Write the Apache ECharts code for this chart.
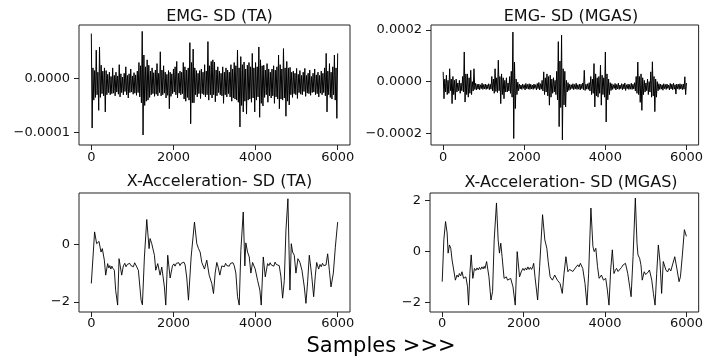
<!DOCTYPE html>
<html>
<head>
<meta charset="utf-8">
<script src="https://cdn.jsdelivr.net/npm/echarts@6/dist/echarts.min.js"></script>
<style>
html, body {margin: 0; padding: 0; background: #fff;}
#chart {width: 706px; height: 360px;}
</style>
</head>
<body>
<div id="chart"></div>
<script>
// EMG values in units of 1e-5, one reading every 20 samples (0..6000)
const emgStep = 20;
const emgTa = [
    8.4, -9.2, 2.0, -4.0, 1.5, -3.5, 5.3, -3.0, 1.2, -5.9,
    5.9, -3.5, 2.5, -2.8, 1.4, -3.2, 2.0, -6.2, 1.5, -3.0,
    0.8, -2.6, 1.2, -3.0, 0.4, -2.8, 2.0, -2.7, 0.6, -3.2,
    1.2, -2.5, 0.5, -2.9, 2.6, -3.4, 0.9, -2.6, 0.3, -3.0,
    1.0, -2.4, 2.2, -3.0, 0.6, -3.6, 0.9, -2.6, 1.8, -2.5,
    0.5, -2.9, 1.1, -2.7, 0.7, -3.1, 1.4, -2.6, 3.0, -3.4,
    2.4, -4.5, 8.8, -10.5, 4.4, -5.0, 2.2, -4.2, 3.5, -4.0,
    2.5, -3.5, 1.4, -3.0, 2.0, -2.8, 1.1, -3.3, 1.6, -2.9,
    2.8, -3.2, 1.0, -2.6, 5.0, -3.2, 1.6, -3.0, 2.4, -2.7,
    1.2, -3.6, 0.8, -3.1, 1.5, -5.6, 1.2, -3.3, 0.9, -2.8,
    1.8, -2.5, 2.2, -3.0, 3.2, -3.6, 1.0, -2.7, 1.4, -3.0,
    1.2, -2.8, 3.0, -3.8, 2.2, -4.2, 1.6, -3.5, 2.0, -4.0,
    6.7, -8.4, 3.0, -4.5, 5.5, -4.5, 2.0, -3.0, 1.5, -3.4,
    1.0, -2.8, 1.5, -3.7, 1.8, -2.8, 1.2, -3.0, 2.6, -3.4,
    1.4, -3.0, 6.9, -4.0, 2.4, -3.0, 3.2, -3.6, 3.5, -3.0,
    3.1, -4.3, 1.6, -3.2, 2.2, -2.6, 1.4, -3.0, 1.0, -3.2,
    2.2, -4.6, 1.2, -3.0, 2.0, -3.4, 1.6, -2.8, 1.2, -3.4,
    2.6, -4.2, 1.8, -3.6, 3.0, -3.8, 2.4, -4.0, 5.3, -4.4,
    2.0, -9.0, 4.1, -5.0, 2.6, -6.2, 3.1, -4.2, 1.8, -6.6,
    2.5, -4.0, 3.0, -3.8, 2.2, -4.4, 4.7, -3.6, 2.0, -6.2,
    3.0, -4.0, 2.2, -3.4, 5.9, -7.2, 3.5, -4.6, 2.4, -5.1,
    2.5, -3.5, 1.6, -3.0, 2.8, -4.4, 1.8, -3.2, 1.2, -3.6,
    1.8, -3.2, 2.4, -4.6, 1.6, -3.4, 2.2, -3.8, 4.4, -5.6,
    2.6, -3.8, 1.8, -4.0, 5.6, -3.6, 2.0, -7.0, 3.2, -4.2,
    2.0, -4.9, 2.1, -3.0, 1.2, -3.5, 1.4, -2.8, 1.0, -3.0,
    1.9, -3.7, 0.8, -2.6, 1.5, -2.9, 0.6, -3.0, 1.2, -2.4,
    1.9, -3.3, 0.6, -2.7, 1.0, -2.8, 1.6, -3.1, 0.4, -2.6,
    1.0, -2.5, 1.8, -3.0, 0.7, -2.8, 1.2, -3.4, 0.6, -2.7,
    1.4, -3.0, 1.0, -2.6, 2.0, -3.2, 4.7, -6.2, 1.4, -3.0,
    2.8, -3.5, 1.2, -3.8, 2.2, -3.0, 4.4, -4.0, 2.0, -7.4,
    4.7
];
const emgMgas = [
    3.8, -6.6, 1.0, -4.0, 2.5, -5.0, 0.5, -4.5, 5.0, -3.5,
    1.0, -8.5, 2.0, -5.0, 0.5, -7.0, 1.0, -4.0, -0.5, -3.5,
    0.5, -4.5, -0.6, -3.5, 2.0, -4.0, 11.5, -7.9, 3.0, -5.0,
    3.0, -6.0, 1.5, -4.5, 4.4, -5.0, 0.0, -3.6, 5.0, -3.0,
    -0.6, -3.2, -1.0, -2.9, -0.9, -3.1, -1.2, -2.7, -0.6, -3.0,
    -1.1, -2.8, -0.9, -3.0, -1.2, -2.7, -0.8, -3.1, -1.0, -2.9,
    2.0, -3.6, 1.0, -4.5, 5.0, -3.8, 1.5, -4.2, 8.3, -3.5,
    2.0, -8.5, 3.0, -5.0, 1.5, -6.6, 0.5, -4.0, 1.5, -4.0,
    -0.5, -3.6, 2.0, -4.5, 4.0, -6.0, 19.2, -22.0, 7.6, -10.4,
    1.0, -5.0, -0.2, -3.5, -1.0, -2.8, -1.3, -3.0, -0.9, -2.6,
    -1.2, -3.2, -0.7, -2.7, -1.1, -2.9, -0.8, -3.0, -1.0, -2.8,
    -1.3, -3.0, -0.9, -2.6, -1.2, -3.2, -0.7, -2.7, -0.3, -3.2,
    -0.8, -2.9, 0.5, -3.6, 3.8, -5.0, 1.5, -4.0, 3.0, -5.5,
    2.0, -9.1, 2.5, -6.0, 1.0, -4.5, 1.5, -4.0, 0.5, -5.0,
    4.0, -7.0, 15.5, -17.4, 8.0, -10.0, 18.0, -22.5, 5.0, -9.0,
    4.0, -9.8, 0.5, -4.0, -0.4, -3.4, -1.0, -3.0, -1.2, -2.7,
    -0.8, -3.1, -1.1, -2.8, -0.6, -3.0, -1.2, -2.9, -0.9, -3.2,
    -1.0, -2.7, -0.5, -3.1, 4.4, -3.4, -1.0, -2.9, -0.8, -3.0,
    -0.4, -3.6, 2.0, -5.0, 1.0, -4.5, 7.0, -9.8, 3.0, -5.5,
    1.5, -6.0, 2.0, -4.5, 6.4, -9.1, 2.5, -5.0, 1.5, -6.0,
    11.5, -15.6, 3.0, -7.0, 1.0, -5.0, -0.4, -3.4, -0.8, -3.0,
    -1.2, -2.6, -0.7, -3.2, -1.1, -2.8, -0.6, -3.0, -1.3, -2.7,
    -0.8, -3.1, -1.0, -2.8, -0.5, -3.4, -1.2, -2.7, -0.9, -3.0,
    -1.1, -2.9, -0.6, -3.0, -1.0, -2.8, -0.4, -3.6, 2.0, -4.5,
    7.6, -5.0, 2.0, -8.0, 3.0, -11.1, 1.5, -5.0, 0.5, -4.0,
    -0.5, -3.5, 1.0, -5.0, 0.0, -4.0, 3.8, -6.0, 7.7, -5.5,
    2.0, -11.6, 1.0, -6.0, 0.0, -3.5, -0.8, -3.0, -1.0, -2.9,
    -1.2, -3.3, -0.8, -2.7, -1.1, -3.0, -0.9, -2.6, -1.3, -3.2,
    -0.7, -2.8, -1.0, -3.1, -0.6, -2.9, -1.2, -4.8, -0.9, -2.7,
    -1.0, -3.0, -0.8, -2.8, -1.1, -3.1, -0.9, -2.9, 1.9, -5.0,
    -0.5
];

// X-acceleration, read at the turning points of the trace
const accTaSamples = [
    0, 80, 130, 187, 236, 268, 317, 350, 398, 425, 450, 475, 500, 525, 561, 593, 641, 675, 740, 780,
    815, 845, 875, 905, 935, 965, 995, 1025, 1055, 1085, 1105, 1146, 1212, 1244, 1293, 1350, 1407, 1431, 1472, 1537,
    1569, 1618, 1675, 1716, 1780, 1813, 1861, 1919, 1976, 2010, 2040, 2070, 2100, 2130, 2160, 2190, 2220, 2255, 2285, 2325,
    2366, 2431, 2512, 2569, 2610, 2650, 2691, 2756, 2812, 2870, 2934, 2976, 3016, 3056, 3090, 3130, 3178, 3210, 3240, 3270,
    3300, 3330, 3360, 3390, 3420, 3450, 3480, 3520, 3561, 3602, 3642, 3700, 3739, 3763, 3805, 3846, 3886, 3927, 3992, 4049,
    4105, 4138, 4188, 4236, 4293, 4325, 4355, 4385, 4415, 4445, 4475, 4505, 4540, 4577, 4618, 4659, 4700, 4740, 4788, 4837,
    4870, 4902, 4943, 4983, 5032, 5081, 5130, 5187, 5227, 5268, 5309, 5366, 5415, 5456, 5488, 5537, 5570, 5600, 5630, 5660,
    5690, 5715, 5756, 5797, 5837, 5894, 5943, 5999
];
const accTaValues = [
    -1.36, 0.43, 0.02, 0.10, -0.27, -0.15, -0.55, -1.07, -0.67, -0.82, -0.74, -0.86, -0.76, -0.83, -0.90, -1.60, -2.11, -0.50, -1.07, -0.75,
    -0.66, -0.78, -0.70, -0.76, -0.66, -0.74, -0.68, -0.78, -0.64, -0.72, -0.66, -0.90, -1.94, -2.10, -0.44, 0.86, -0.15, 0.20, 0.02, -0.38,
    -0.90, -0.67, -1.07, -0.79, -1.48, -2.11, -0.38, -1.17, -0.75, -0.68, -0.76, -0.66, -0.72, -0.64, -0.74, -0.66, -0.70, -0.62, -0.72, -1.17,
    -1.94, -0.44, 0.77, 0.02, -0.15, -0.27, -0.63, -0.86, -0.55, -1.07, -1.36, -1.71, -1.00, -0.63, -0.80, -1.07, -0.75, -0.70, -0.78, -0.66,
    -0.74, -0.68, -0.76, -0.66, -0.72, -0.64, -0.74, -1.00, -1.82, -2.11, -0.21, 1.12, -0.75, 0.05, -0.27, -0.44, -1.00, -0.63, -0.86, -1.25,
    -1.59, -2.11, -0.44, -1.13, -0.67, -0.74, -0.64, -0.72, -0.66, -0.76, -0.62, -0.70, -0.66, -0.74, -1.13, -1.87, -1.25, 0.49, 1.58, -1.59,
    0.02, -0.27, -0.38, -1.00, -0.50, -0.63, -0.90, -1.48, -2.05, -1.30, -0.38, -1.07, -1.82, -1.07, -0.63, -0.86, -0.70, -0.78, -0.66, -0.74,
    -0.68, -0.72, -0.33, -0.90, -1.48, -1.00, -0.10, 0.77
];
const accMgasSamples = [
    0, 40, 82, 121, 145, 178, 210, 242, 291, 324, 364, 395, 421, 455, 485, 525, 582, 622, 647, 679,
    712, 752, 792, 825, 855, 885, 915, 945, 975, 1005, 1030, 1051, 1091, 1148, 1197, 1237, 1277, 1333, 1374, 1406,
    1439, 1471, 1520, 1576, 1605, 1633, 1682, 1738, 1794, 1842, 1900, 1940, 1981, 2015, 2045, 2075, 2105, 2135, 2165, 2195,
    2223, 2247, 2279, 2344, 2393, 2465, 2521, 2570, 2603, 2651, 2707, 2764, 2829, 2894, 2950, 2990, 3039, 3088, 3128, 3168,
    3210, 3249, 3290, 3330, 3360, 3394, 3452, 3508, 3556, 3597, 3653, 3702, 3734, 3774, 3815, 3855, 3912, 3961, 4017, 4057,
    4097, 4138, 4179, 4219, 4250, 4283, 4320, 4364, 4405, 4445, 4502, 4558, 4606, 4640, 4688, 4744, 4785, 4809, 4849, 4882,
    4914, 4962, 5000, 5027, 5060, 5091, 5148, 5188, 5229, 5269, 5309, 5350, 5390, 5430, 5495, 5535, 5576, 5615, 5657, 5713,
    5770, 5818, 5852, 5900, 5949, 5999
];
const accMgasValues = [
    -1.18, 0.46, 1.18, 0.73, -0.06, 0.26, 0.13, -0.33, -0.39, -1.12, -0.92, -1.00, -0.86, -0.95, -0.79, -1.05, -0.99, -1.38, -2.10, -0.86,
    -0.13, -1.05, -0.66, -0.74, -0.64, -0.72, -0.62, -0.70, -0.60, -0.68, -0.58, -0.66, -0.39, -0.99, -1.90, -1.57, 0.46, 1.91, 0.46, -0.06,
    0.33, -0.20, -1.05, -0.99, -1.12, -1.18, -1.05, -1.38, -2.10, 0.00, -0.99, -0.80, -0.66, -0.74, -0.64, -0.72, -0.60, -0.70, -0.62, -0.70,
    -0.60, -0.46, -0.99, -1.90, -0.59, 1.45, 0.46, 0.13, -0.39, -0.99, -1.12, -0.92, -1.12, -1.25, -1.64, -0.90, -0.20, -0.79, -0.70, -0.66,
    -0.78, -0.72, -0.60, -0.52, -0.60, -0.46, -0.66, -1.25, -2.10, -0.86, 1.71, 0.20, 0.00, 0.13, -0.59, -1.05, -0.92, -1.12, -1.05, -1.51,
    -2.10, -0.72, 0.07, -0.86, -0.74, -0.66, -0.78, -0.79, -0.62, -0.52, -0.46, -0.86, -1.38, -1.77, -0.20, 2.10, 0.33, -0.13, -0.26, -0.52,
    -1.12, -0.79, -0.90, -0.92, -0.80, -0.72, -1.12, -1.64, -2.10, -0.86, 0.26, -0.39, -1.64, -0.39, -0.72, -0.80, -0.66, -0.76, -0.72, -0.20,
    -0.72, -1.18, -0.99, -0.13, 0.86, 0.60
];

const titles = ['EMG- SD (TA)', 'EMG- SD (MGAS)', 'X-Acceleration- SD (TA)', 'X-Acceleration- SD (MGAS)'];
const xTicks = [0, 2000, 4000, 6000];
const yTicksEmgTa = [-0.0001, 0];
const yTicksEmgMgas = [-0.0002, 0, 0.0002];
const yTicksAccTa = [-2, 0];
const yTicksAccMgas = [-2, 0, 2];

const FONT = 'DejaVu Sans';
const minus = s => s.replace('-', '\u2212');

const grids = [
    {left: 79, top: 25, width: 271, height: 120},
    {left: 431, top: 25, width: 270, height: 120},
    {left: 79, top: 193, width: 271, height: 119},
    {left: 430, top: 193, width: 271, height: 119}
];

// y ranges matched to the matplotlib auto limits
const yRanges = [
    [-0.0001236, 0.0000999],
    [-0.0002452, 0.0002194],
    [-2.35, 1.78],
    [-2.37, 2.30]
];
const yTicks = [yTicksEmgTa, yTicksEmgMgas, yTicksAccTa, yTicksAccMgas];

const el = echarts.init(document.getElementById('chart'), null, {renderer: 'canvas'});

const xAxes = grids.map((g, i) => ({
    type: 'value',
    gridIndex: i,
    min: -300,
    max: 6300,
    splitLine: {show: false},
    axisLine: {show: false, onZero: false},
    axisTick: {show: true, inside: false, length: 5, customValues: xTicks, lineStyle: {color: '#222', width: 1}},
    axisLabel: {customValues: xTicks, margin: i < 2 ? 6 : 5, color: '#111', fontFamily: FONT, fontSize: 13,
        formatter: v => String(v)}
}));

const yAxes = grids.map((g, i) => ({
    type: 'value',
    gridIndex: i,
    min: yRanges[i][0],
    max: yRanges[i][1],
    splitLine: {show: false},
    axisLine: {show: false, onZero: false},
    axisTick: {show: true, inside: false, length: 5, customValues: yTicks[i], lineStyle: {color: '#222', width: 1}},
    axisLabel: {
        customValues: yTicks[i], margin: 9, color: '#111', fontFamily: FONT, fontSize: 13,
        formatter: v => i < 2 ? minus(v.toFixed(4)) : minus(String(Math.round(v)))
    }
}));

const lineSeries = (idx, data, width) => ({
    type: 'line',
    xAxisIndex: idx,
    yAxisIndex: idx,
    data: data,
    symbol: 'none',
    sampling: null,
    lineStyle: {color: '#000', width: width},
    animation: false
});

const titleStyle = {fontFamily: FONT, fontSize: 16, fontWeight: 'normal', color: '#111'};

const option = {
    backgroundColor: '#fff',
    animation: false,
    title: [
        {text: titles[0], left: 214.5, top: 4, textAlign: 'center', textStyle: titleStyle},
        {text: titles[1], left: 566, top: 4, textAlign: 'center', textStyle: titleStyle},
        {text: titles[2], left: 214.5, top: 169, textAlign: 'center', textStyle: titleStyle},
        {text: titles[3], left: 566, top: 170, textAlign: 'center', textStyle: titleStyle},
        {text: 'Samples >>>', left: 376, top: 331, textAlign: 'center',
         textStyle: {fontFamily: FONT, fontSize: 21, fontWeight: 'normal', color: '#000'}}
    ],
    grid: grids.map(g => Object.assign({show: true, borderColor: '#222', borderWidth: 1, backgroundColor: '#fff'}, g)),
    xAxis: xAxes,
    yAxis: yAxes,
    series: [
        lineSeries(0, emgTa.map((v, i) => [i * emgStep, v * 1e-5]), 1),
        lineSeries(1, emgMgas.map((v, i) => [i * emgStep, v * 1e-5]), 1),
        lineSeries(2, accTaSamples.map((s, i) => [s, accTaValues[i]]), 0.9),
        lineSeries(3, accMgasSamples.map((s, i) => [s, accMgasValues[i]]), 0.9)
    ]
};

el.setOption(option);
</script>
</body>
</html>
